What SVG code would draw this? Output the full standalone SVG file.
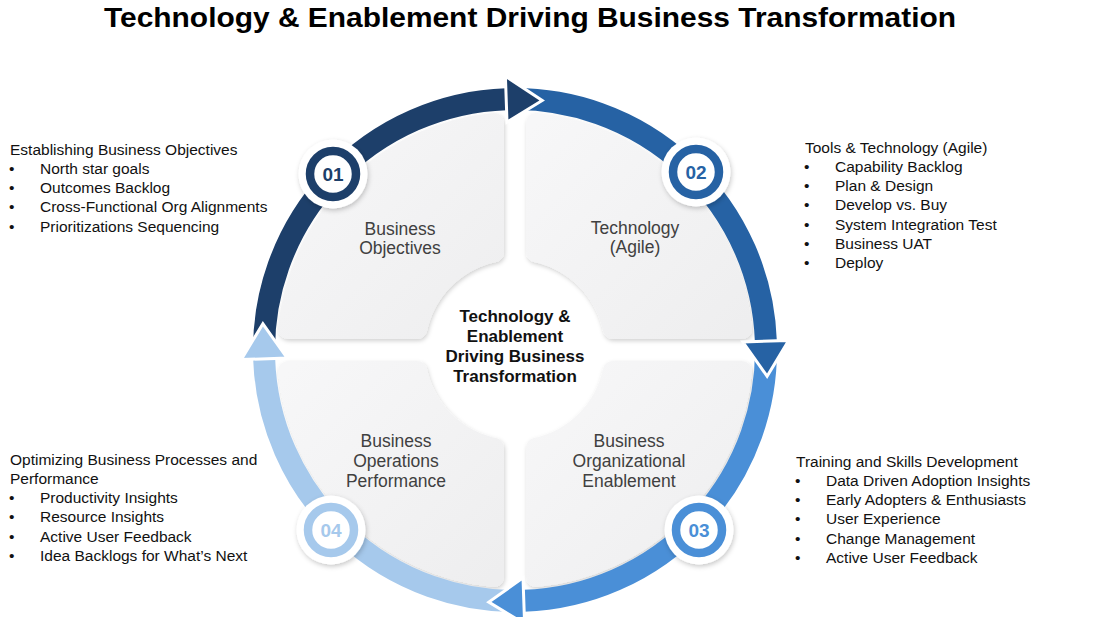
<svg xmlns="http://www.w3.org/2000/svg" width="1098" height="617" viewBox="0 0 1098 617">
<defs>
<style>
.title{font-family:"Liberation Sans",Arial,sans-serif;font-weight:bold;font-size:28px;fill:#000}
.side{font-family:"Liberation Sans",Arial,sans-serif;font-size:15.5px;fill:#111}
.lbl{font-family:"Liberation Sans",Arial,sans-serif;font-size:17.5px;fill:#404040;text-anchor:middle}
.ctr{font-family:"Liberation Sans",Arial,sans-serif;font-weight:bold;font-size:17px;fill:#111;text-anchor:middle}
.num{font-family:"Liberation Sans",Arial,sans-serif;font-weight:bold;font-size:19px;text-anchor:middle}
.tile{fill:url(#tg);stroke:url(#tg);stroke-width:20;stroke-linejoin:round;filter:url(#tsh)}
.arc{fill:none;stroke-width:22}
.head{stroke:#fff;stroke-width:3;stroke-linejoin:miter}
.disc{fill:#fff;filter:url(#dsh)}
.ring{fill:#fff;stroke-width:8.5}
</style>
<linearGradient id="tg" x1="0" y1="0" x2="1" y2="1">
<stop offset="0" stop-color="#f7f7f8"/>
<stop offset="1" stop-color="#eeeeef"/>
</linearGradient>
<filter id="tsh" x="-10%" y="-10%" width="120%" height="120%">
<feDropShadow dx="1" dy="2" stdDeviation="2" flood-color="#000" flood-opacity="0.18"/>
</filter>
<filter id="dsh" x="-30%" y="-30%" width="160%" height="160%">
<feDropShadow dx="1" dy="2" stdDeviation="2.5" flood-color="#000" flood-opacity="0.22"/>
</filter>
</defs>
<rect width="1098" height="617" fill="#fff"/>
<text class="title" x="530" y="27" text-anchor="middle" textLength="852" lengthAdjust="spacingAndGlyphs">Technology &amp; Enablement Driving Business Transformation</text>

<g id="tile-objectives">
<path class="tile" d="M288,329 A228,228 0 0 1 494,123 L494,252.2 A100,100 0 0 0 417.2,329 Z"/>
<text class="lbl" x="400" y="235">Business</text>
<text class="lbl" x="400" y="254">Objectives</text>
</g>
<g id="tile-technology">
<path class="tile" d="M742,329 A228,228 0 0 0 536,123 L536,252.2 A100,100 0 0 1 612.8,329 Z"/>
<text class="lbl" x="635" y="234">Technology</text>
<text class="lbl" x="635" y="253">(Agile)</text>
</g>
<g id="tile-enablement">
<path class="tile" d="M742,371 A228,228 0 0 1 536,577 L536,447.8 A100,100 0 0 0 612.8,371 Z"/>
<text class="lbl" x="629" y="447">Business</text>
<text class="lbl" x="629" y="467">Organizational</text>
<text class="lbl" x="629" y="487">Enablement</text>
</g>
<g id="tile-operations">
<path class="tile" d="M288,371 A228,228 0 0 0 494,577 L494,447.8 A100,100 0 0 1 417.2,371 Z"/>
<text class="lbl" x="396" y="447">Business</text>
<text class="lbl" x="396" y="467">Operations</text>
<text class="lbl" x="396" y="487">Performance</text>
</g>

<g id="center">
<text class="ctr" x="515" y="322">Technology &amp;</text>
<text class="ctr" x="515" y="342">Enablement</text>
<text class="ctr" x="515" y="362">Driving Business</text>
<text class="ctr" x="515" y="382">Transformation</text>
</g>

<g id="connectors">
<path class="arc" stroke="#1d3f6a" d="M264.15,358.76 A251,251 0 0 1 506.24,99.15"/>
<path class="arc" stroke="#2662a4" d="M506.24,99.15 A251,251 0 0 1 765.85,341.24"/>
<path class="arc" stroke="#4a8fd7" d="M765.85,341.24 A251,251 0 0 1 523.76,600.85"/>
<path class="arc" stroke="#a6c9ec" d="M523.76,600.85 A251,251 0 0 1 264.15,358.76"/>
<polygon class="head" fill="#1d3f6a" points="505.4,76.2 542.2,100.5 507.0,122.1"/>
<polygon class="head" fill="#2662a4" points="788.8,340.4 767.1,376.2 742.9,342.0"/>
<polygon class="head" fill="#4a8fd7" points="524.6,623.8 488.8,602.1 523.0,577.9"/>
<polygon class="head" fill="#a6c9ec" points="241.2,359.6 262.9,323.8 287.1,358.0"/>
</g>

<g id="step-01">
<circle class="disc" cx="333" cy="174" r="34.5"/>
<circle class="ring" stroke="#1d3f6a" cx="333" cy="174" r="23"/>
<text class="num" fill="#1d3f6a" x="333" y="181">01</text>
</g>
<g id="step-02">
<circle class="disc" cx="696" cy="172" r="34.5"/>
<circle class="ring" stroke="#2662a4" cx="696" cy="172" r="23"/>
<text class="num" fill="#2662a4" x="696" y="179">02</text>
</g>
<g id="step-03">
<circle class="disc" cx="699" cy="530" r="34.5"/>
<circle class="ring" stroke="#4a8fd7" cx="699" cy="530" r="23"/>
<text class="num" fill="#4a8fd7" x="699" y="537">03</text>
</g>
<g id="step-04">
<circle class="disc" cx="331" cy="530" r="34.5"/>
<circle class="ring" stroke="#a6c9ec" cx="331" cy="530" r="23"/>
<text class="num" fill="#a6c9ec" x="331" y="537">04</text>
</g>

<g id="notes-objectives" class="side">
<text x="10" y="154.5">Establishing Business Objectives</text>
<text x="9" y="173.8">•</text><text x="40" y="173.8">North star goals</text>
<text x="9" y="193.1">•</text><text x="40" y="193.1">Outcomes Backlog</text>
<text x="9" y="212.4">•</text><text x="40" y="212.4">Cross-Functional Org Alignments</text>
<text x="9" y="231.7">•</text><text x="40" y="231.7">Prioritizations Sequencing</text>
</g>
<g id="notes-technology" class="side">
<text x="805" y="152.5">Tools &amp; Technology (Agile)</text>
<text x="804" y="171.8">•</text><text x="835" y="171.8">Capability Backlog</text>
<text x="804" y="191.1">•</text><text x="835" y="191.1">Plan &amp; Design</text>
<text x="804" y="210.4">•</text><text x="835" y="210.4">Develop vs. Buy</text>
<text x="804" y="229.7">•</text><text x="835" y="229.7">System Integration Test</text>
<text x="804" y="249.0">•</text><text x="835" y="249.0">Business UAT</text>
<text x="804" y="268.3">•</text><text x="835" y="268.3">Deploy</text>
</g>
<g id="notes-operations" class="side">
<text x="10" y="464.5">Optimizing Business Processes and</text>
<text x="10" y="483.8">Performance</text>
<text x="9" y="503.1">•</text><text x="40" y="503.1">Productivity Insights</text>
<text x="9" y="522.4">•</text><text x="40" y="522.4">Resource Insights</text>
<text x="9" y="541.7">•</text><text x="40" y="541.7">Active User Feedback</text>
<text x="9" y="561.0">•</text><text x="40" y="561.0">Idea Backlogs for What’s Next</text>
</g>
<g id="notes-enablement" class="side">
<text x="796" y="466.5">Training and Skills Development</text>
<text x="795" y="485.8">•</text><text x="826" y="485.8">Data Driven Adoption Insights</text>
<text x="795" y="505.1">•</text><text x="826" y="505.1">Early Adopters &amp; Enthusiasts</text>
<text x="795" y="524.4">•</text><text x="826" y="524.4">User Experience</text>
<text x="795" y="543.7">•</text><text x="826" y="543.7">Change Management</text>
<text x="795" y="563.0">•</text><text x="826" y="563.0">Active User Feedback</text>
</g>
</svg>
